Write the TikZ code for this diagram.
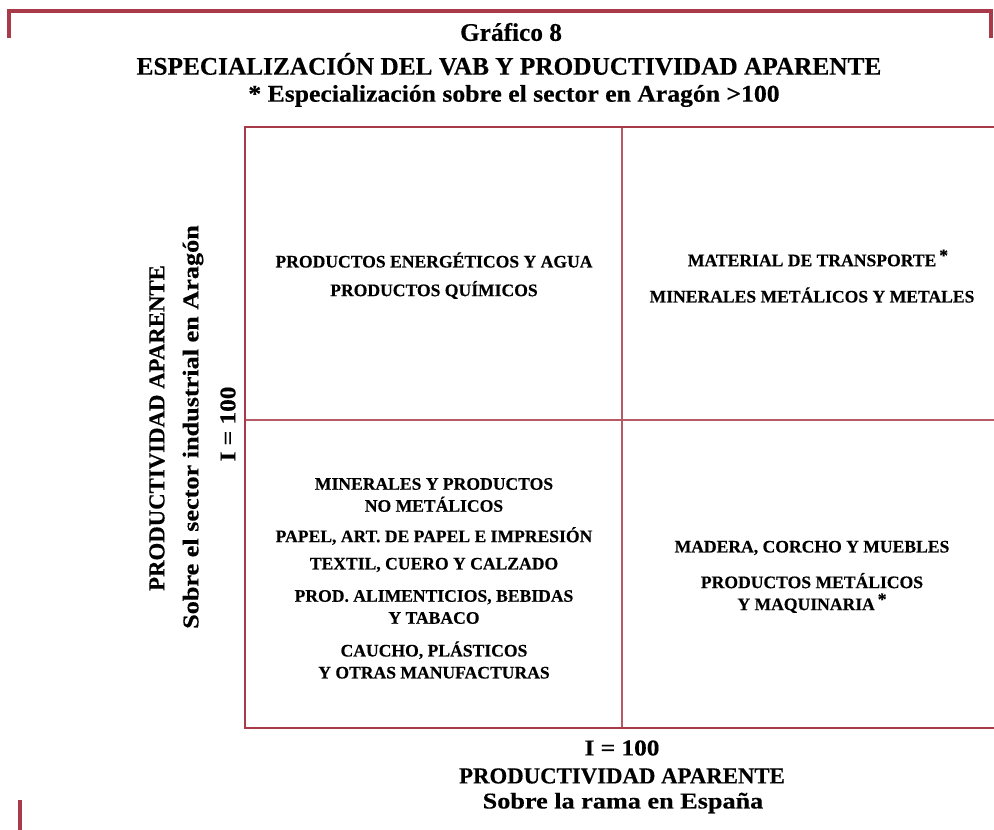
\documentclass[tikz,border=0pt]{standalone}
\usepackage{fontspec}
\setmainfont{Liberation Serif}[BoldFeatures={FakeBold=0.4}]
\usepackage{graphicx}
\usepackage{xcolor}
\usepackage{tikz}
\usetikzlibrary{positioning}
\definecolor{framered}{HTML}{A83A4A}
\definecolor{gridred}{HTML}{B85A66}
\newcommand{\astmark}{\,\raisebox{5pt}{*}}
\newcommand{\widen}[2]{\scalebox{#1}[1]{#2}}
\tikzset{
  frameline/.style={draw=framered, line width=#1},
  titletxt/.style={font=\fontsize{25.3}{28}\selectfont\bfseries, align=center, inner sep=0pt},
  subtxt/.style={font=\fontsize{24}{28}\selectfont\bfseries, align=center, inner sep=0pt},
  quadtxt/.style={font=\fontsize{17.6}{22}\selectfont\bfseries, align=center, inner sep=0pt},
  axiscaps/.style={font=\fontsize{22.8}{26}\selectfont\bfseries, align=center, inner sep=0pt},
  axislow/.style={font=\fontsize{22.6}{26}\selectfont\bfseries, align=center, inner sep=0pt},
}

\begin{document}
\begin{tikzpicture}[x=1pt, y=-1pt]

  \useasboundingbox (0,0) rectangle (994,830);

  % outer bracket and corner mark
  \draw[frameline=3.5pt] (9,38) -- (9,11) -- (991,11) -- (991,38);
  \draw[frameline=4pt] (20,800) -- (20,830);

  % title block
  \node[titletxt] (title) at (511,32) {Gráfico 8};
  \node[titletxt] (head) at (509,64) {ESPECIALIZACIÓN DEL VAB Y PRODUCTIVIDAD APARENTE};
  \node[subtxt] (note) at (514,96) {\widen{1.07}{* Especialización sobre el sector en Aragón >100}};

  % quadrant grid
  \draw[frameline=1.3pt, draw=gridred] (622,127) -- (622,728);
  \draw[frameline=1.3pt, draw=gridred] (245,420) -- (994,420);
  \draw[frameline=2.8pt] (994,127) -- (245,127) -- (245,728) -- (994,728);

  % top left
  \node[quadtxt] (energia) at (434,260) {PRODUCTOS ENERGÉTICOS Y AGUA};
  \node[quadtxt] (quimica) at (434,290) {PRODUCTOS QUÍMICOS};

  % top right
  \node[quadtxt] (transp) at (818,258) {MATERIAL DE TRANSPORTE\astmark};
  \node[quadtxt] (metales) at (812,295) {MINERALES METÁLICOS Y METALES};

  % bottom left
  \node[quadtxt] (nometal) at (434,495) {MINERALES Y PRODUCTOS\\NO METÁLICOS};
  \node[quadtxt] (papel) at (434,536) {PAPEL, ART. DE PAPEL E IMPRESIÓN};
  \node[quadtxt] (textil) at (434,565) {TEXTIL, CUERO Y CALZADO};
  \node[quadtxt] (alim) at (434,607) {PROD. ALIMENTICIOS, BEBIDAS\\Y TABACO};
  \node[quadtxt] (caucho) at (434,660) {CAUCHO, PLÁSTICOS\\Y OTRAS MANUFACTURAS};

  % bottom right
  \node[quadtxt] (madera) at (812,548) {MADERA, CORCHO Y MUEBLES};
  \node[quadtxt] (maquina) at (812,593) {PRODUCTOS METÁLICOS\\Y MAQUINARIA\astmark};

  % axis labels
  \node[axiscaps, rotate=90] (yprod) at (157,428) {PRODUCTIVIDAD APARENTE};
  \node[axislow, rotate=90] (ysobre) at (193,427) {\widen{1.16}{Sobre el sector industrial en Aragón}};
  \node[axislow, rotate=90] (yindex) at (228,424) {\widen{1.12}{I = 100}};

  \node[axislow] (xindex) at (622,748) {\widen{1.12}{I = 100}};
  \node[axiscaps] (xprod) at (622,776) {PRODUCTIVIDAD APARENTE};
  \node[axislow] (xsobre) at (623,803) {\widen{1.16}{Sobre la rama en España}};

\end{tikzpicture}
\end{document}
